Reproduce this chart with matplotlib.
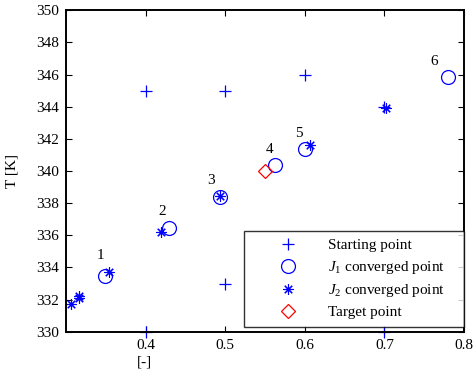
import numpy as np
import matplotlib.pyplot as plt

plt.rcParams['font.family'] = ['Liberation Serif', 'DejaVu Serif']
plt.rcParams['mathtext.fontset'] = 'custom'
plt.rcParams['mathtext.it'] = 'Liberation Serif:italic'
plt.rcParams['mathtext.rm'] = 'Liberation Serif'

# starting points
start_x = [0.4, 0.5, 0.6, 0.5, 0.4, 0.7, 0.7]
start_y = [345, 345, 346, 333, 330, 330, 344]

# J1 converged points (labelled 1..6)
j1_x = [0.349, 0.429, 0.494, 0.562, 0.600, 0.780]
j1_y = [333.47, 336.45, 338.40, 340.35, 341.34, 345.88]
j1_labels = ['1', '2', '3', '4', '5', '6']

# J2 converged points
j2_x = [0.307, 0.316, 0.317, 0.354, 0.420, 0.493, 0.606, 0.702]
j2_y = [331.7, 332.2, 332.1, 333.7, 336.2, 338.45, 341.6, 343.95]

# target point
target_x = [0.55]
target_y = [340.0]

fig = plt.figure(figsize=(4.74, 3.74), dpi=100)
ax = fig.add_axes([0.139, 0.113, 0.840, 0.8595])

star = (8, 2, 0)
ax.plot(start_x, start_y, '+', color='blue', ms=9, mew=0.9, label='Starting point', clip_on=False)
ax.plot(j1_x, j1_y, 'o', mfc='none', mec='blue', ms=10, mew=0.9, label=r'$J_1$ converged point')
ax.plot(j2_x, j2_y, ls='none', marker=star, color='blue', ms=7.5, mew=0.8, label=r'$J_2$ converged point')
ax.plot(target_x, target_y, 'D', mfc='none', mec='red', ms=7, mew=0.9, label='Target point')

# numbers next to the J1 points
offs = [(-0.006, 0.85), (-0.008, 0.6), (-0.012, 0.6), (-0.006, 0.6), (-0.008, 0.6), (-0.018, 0.5)]
for x, y, t, (dx, dy) in zip(j1_x, j1_y, j1_labels, offs):
    ax.text(x + dx, y + dy, t, fontsize=11, ha='center', va='bottom')

ax.set_xlim(0.3, 0.8)
ax.set_ylim(330, 350)
ax.set_xticks([0.4, 0.5, 0.6, 0.7, 0.8])
ax.set_xticklabels(['0.4', '0.5', '0.6', '0.7', '0.8'])
ax.set_yticks(np.arange(330, 351, 2))
ax.tick_params(direction='in', top=True, right=True, length=4, width=0.8, labelsize=11, pad=5)
for s in ax.spines.values():
    s.set_linewidth(1.4)

ax.set_xlabel('[-]', fontsize=11)
ax.set_ylabel('T [K]', fontsize=11)
ax.xaxis.set_label_coords(0.198, -0.073)
ax.yaxis.set_label_coords(-0.118, 0.5)

leg = ax.legend(loc='upper left', bbox_to_anchor=(0.447, 0.313, 0.553, 0.0), mode='expand',
                fontsize=11, frameon=True, fancybox=False, borderaxespad=0,
                handlelength=4.8, handletextpad=0.2, labelspacing=0.42, borderpad=0.5)
leg.get_frame().set_edgecolor('black')
leg.get_frame().set_linewidth(1.0)

plt.savefig('out.png', dpi=100)
